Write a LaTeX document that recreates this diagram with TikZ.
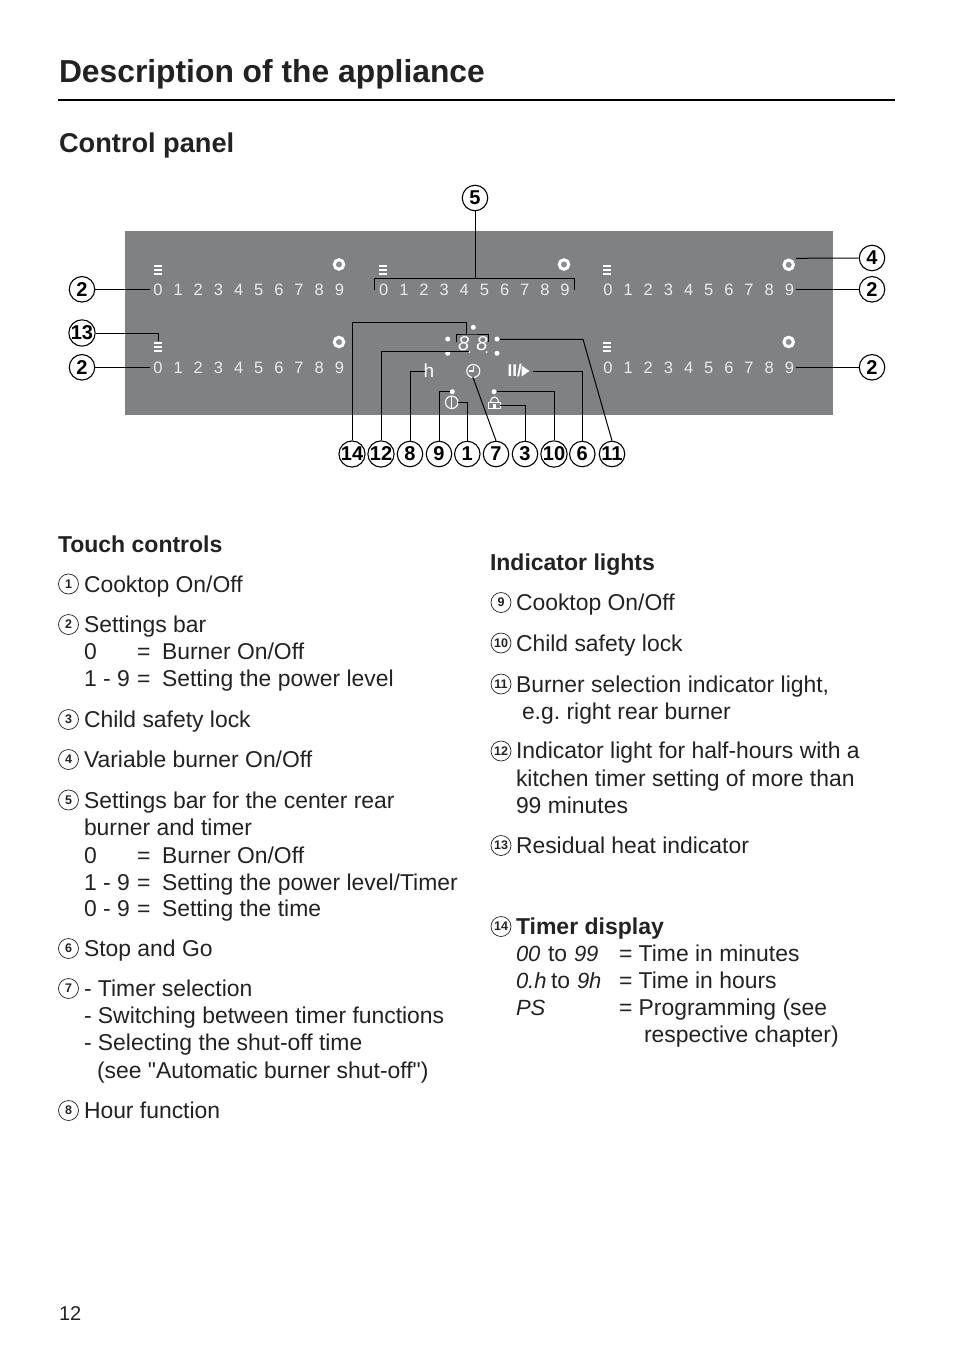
\documentclass[tikz,border=0pt]{standalone}
\usepackage{fontspec}
\newfontfamily\mainf[RawFeature=-liga]{Liberation Sans}
\newcount\txtc
\definecolor{panelgray}{HTML}{808183}
\definecolor{inkc}{HTML}{222222}
\newcommand{\bd}[4][23]{\global\advance\txtc by 1
  \node[txt,font=\fontsize{#1}{#1}\selectfont\bfseries] (t\the\txtc) at (#2,#3) {#4};}
\newcommand{\tl}[3]{\global\advance\txtc by 1
  \node[txt] (t\the\txtc) at (#1,#2) {#3};}
\newcommand{\seg}[3]{\global\advance\txtc by 1
  \node[txt,font=\fontsize{22}{22}\selectfont\itshape] (t\the\txtc) at (#1,#2) {#3};}
\newcommand{\mk}[4]{\node[mark circ] (#1) at (#2,#3) {#4};}
\newcommand{\cout}[4]{\node[callout] (#1) at (#2,#3) {#4};}
\tikzset{
  x=1pt,y=-1pt,
  txt/.style={anchor=base west,inner sep=0pt,outer sep=0pt,text=inkc,font=\fontsize{22.9}{22.9}\selectfont},
  mark circ/.style={circle,draw=inkc,line width=0.7pt,minimum size=20pt,inner sep=0pt,text=inkc,font=\fontsize{12.5}{12.5}\selectfont\bfseries},
  callout/.style={circle,draw=black,line width=1.1pt,minimum size=25.5pt,inner sep=0pt,fill=white,text=black,font=\fontsize{20}{20}\selectfont\bfseries},
  lead/.style={draw=black,line width=1pt},
  pdigit/.style={text=white!92!black,font=\fontsize{16.5}{16.5}\selectfont,inner sep=0pt},
  pring/.style={circle,draw=white,line width=3pt,fill=panelgray!90!white,minimum size=9.5pt,inner sep=0pt},
  pdot/.style={circle,fill=white,minimum size=5pt,inner sep=0pt},
  psym/.style={draw=white,line width=1.1pt},
}
\begin{document}
\mainf\frenchspacing
\begin{tikzpicture}
\useasboundingbox (0,0) rectangle (954,1352);
% headings
\bd[31.8]{59}{82}{Description of the appliance}
\draw[line width=1.6pt,black] (58,100) -- (895,100);
\bd[27.2]{59}{152}{Control panel}
% panel
\fill[panelgray] (125,231) rectangle (833,415);
\foreach \gx/\g in {158/a,383.7/b,608/c}{
  \foreach \i in {0,...,9}{
    \node[pdigit] (\g r\i) at ({\gx+20.15*\i},289.5) {\i};
  }
}
\foreach \gx/\g in {158/d,608/e}{
  \foreach \i in {0,...,9}{
    \node[pdigit] (\g r\i) at ({\gx+20.15*\i},367.5) {\i};
  }
}
\foreach \bx/\by in {158/265,383/265,607/265,158/342,607/342}{
  \fill[white] (\bx-4,\by) rectangle (\bx+4,\by+2.2);
  \fill[white] (\bx-4,\by+4) rectangle (\bx+4,\by+6.2);
  \fill[white] (\bx-4,\by+8) rectangle (\bx+4,\by+10.2);
}
\node[pring] (ring1) at (339,264.5) {};
\node[pring] (ring2) at (564,264.5) {};
\node[pring] (ring3) at (788.7,264.8) {};
\node[pring] (ring4) at (339,342) {};
\node[pring] (ring5) at (788.7,342) {};
% display and symbols
\node[pdot] (d1) at (473.3,327.3) {};
\node[pdot] (d2) at (447.7,339) {};
\node[pdot] (d3) at (447.7,353.3) {};
\node[pdot] (d4) at (497,339) {};
\node[pdot] (d5) at (497,353.3) {};
\node[pdot,minimum size=2pt] (d6) at (469.3,352) {};
\node[pdot,minimum size=2pt] (d7) at (486.7,352) {};
\node[pdot] (d8) at (452.3,391.7) {};
\node[pdot] (d9) at (494,391.7) {};
\node[inner sep=0pt,text=white,font=\fontsize{20}{20}\selectfont\itshape] (seg1) at (463.8,343.5) {8};
\node[inner sep=0pt,text=white,font=\fontsize{20}{20}\selectfont\itshape] (seg2) at (482,343.5) {8};
\node[inner sep=0pt,text=white,font=\fontsize{19}{19}\selectfont] (hsym) at (429,371) {h};
\node[circle,draw=white,line width=1.1pt,minimum size=13pt,inner sep=0pt] (clock) at (473.3,371) {};
\draw[psym] (473.3,366) -- (473.3,371) -- (468.5,371);
\node[inner sep=0pt,text=white,anchor=west,font=\fontsize{17}{17}\selectfont\bfseries] (stopgo) at (507.5,371) {II/};
\fill[white] (521.5,365.5) -- (529.5,371) -- (521.5,376.5) -- cycle;
\node[circle,draw=white,line width=1.1pt,minimum size=12.5pt,inner sep=0pt] (power) at (451.7,402.3) {};
\draw[psym] (451.7,396) -- (451.7,408.6);
\draw[white,line width=1.1pt] (490.5,402.5) .. controls (491,395) and (498,395) .. (498.5,402.5);
\draw[white,line width=1.1pt] (488.5,402.5) rectangle (500.5,408.8);
\fill[white] (493,404) rectangle (496,408.5);
% callouts
\cout{c5}{475}{198}{5}
\cout{c2a}{82}{289.3}{2}
\cout{c13}{82}{333}{13}
\cout{c2b}{82}{367.3}{2}
\cout{c4}{872}{258}{4}
\cout{c2c}{872}{289.3}{2}
\cout{c2d}{872}{367.3}{2}
\cout{c14}{352}{454}{14}
\cout{c12}{381}{454}{12}
\cout{c8}{410}{454}{8}
\cout{c9}{439}{454}{9}
\cout{c1}{467.3}{454}{1}
\cout{c7}{496}{454}{7}
\cout{c3}{525}{454}{3}
\cout{c10}{554}{454}{10}
\cout{c6}{582.3}{454}{6}
\cout{c11}{612}{454}{11}
% leaders
\coordinate (e2a) at (150,289.3);
\coordinate (e13) at (158.3,340.7);
\coordinate (e2b) at (150,367.3);
\coordinate (e4) at (796,258.3);
\coordinate (e2c) at (796,289.3);
\coordinate (e2d) at (796,367.3);
\coordinate (b5) at (475,278.3);
\coordinate (b5l) at (374.3,290);
\coordinate (b5r) at (574.5,290);
\coordinate (k14) at (466.7,322);
\coordinate (e14) at (466.7,334);
\coordinate (dl) at (456.3,342);
\coordinate (dr) at (488.7,342);
\coordinate (e12) at (469,351.7);
\coordinate (e8) at (425,371);
\coordinate (e9) at (449.5,391.7);
\coordinate (e1) at (458,402.7);
\coordinate (e7) at (472.7,376.7);
\coordinate (e3) at (500,405);
\coordinate (e10) at (497,391.7);
\coordinate (e6) at (533,371);
\coordinate (k11) at (583,339.3);
\coordinate (e11) at (500,339.3);
\draw[lead] (c2a.east) -- (e2a);
\draw[lead] (c13.east) -| (e13);
\draw[lead] (c2b.east) -- (e2b);
\draw[lead] (c4.west) -- (e4);
\draw[lead] (c2c.west) -- (e2c);
\draw[lead] (c2d.west) -- (e2d);
\draw[lead] (c5.south) -- (b5);
\draw[lead] (b5l) |- (b5) -| (b5r);
\draw[lead] (c14.north) |- (k14) -- (e14);
\draw[lead] (dl) |- (e14) -| (dr);
\draw[lead] (c12.north) |- (e12);
\draw[lead] (c8.north) |- (e8);
\draw[lead] (c9.north) |- (e9);
\draw[lead] (c1.north) |- (e1);
\draw[lead] (c7.north) -- (e7);
\draw[lead] (c3.north) |- (e3);
\draw[lead] (c10.north) |- (e10);
\draw[lead] (c6.north) |- (e6);
\draw[lead] (c11.north) -- (k11) -- (e11);
% left column
\bd{58}{552}{Touch controls}
\mk{m1}{68.5}{584}{1}\tl{84}{592}{Cooktop On/Off}
\mk{m2}{68.5}{624.5}{2}\tl{84}{632}{Settings bar}
\tl{84}{659}{0}\tl{137}{659}{=}\tl{162}{659}{Burner On/Off}
\tl{84}{686}{1 - 9}\tl{137}{686}{=}\tl{162}{686}{Setting the power level}
\mk{m3}{68.5}{719.5}{3}\tl{84}{727}{Child safety lock}
\mk{m4}{68.5}{759.5}{4}\tl{84}{767}{Variable burner On/Off}
\mk{m5}{68.5}{800}{5}\tl{84}{808}{Settings bar for the center rear}
\tl{84}{835}{burner and timer}
\tl{84}{863}{0}\tl{137}{863}{=}\tl{162}{863}{Burner On/Off}
\tl{84}{890}{1 - 9}\tl{137}{890}{=}\tl{162}{890}{Setting the power level/Timer}
\tl{84}{916}{0 - 9}\tl{137}{916}{=}\tl{162}{916}{Setting the time}
\mk{m6}{68.5}{948.5}{6}\tl{84}{956}{Stop and Go}
\mk{m7}{68.5}{988.5}{7}\tl{84}{996}{- Timer selection}
\tl{84}{1023}{- Switching between timer functions}
\tl{84}{1050}{- Selecting the shut-off time}
\tl{97}{1078}{(see "Automatic burner shut-off")}
\mk{m8}{68.5}{1110.5}{8}\tl{84}{1118}{Hour function}
% right column
\bd{490}{570}{Indicator lights}
\mk{m9}{501}{602.5}{9}\tl{516}{610}{Cooktop On/Off}
\mk{m10}{501}{643}{10}\tl{516}{651}{Child safety lock}
\mk{m11}{501}{684}{11}\tl{516}{692}{Burner selection indicator light,}
\tl{522}{719}{e.g. right rear burner}
\mk{m12}{501}{751}{12}\tl{516}{758}{Indicator light for half-hours with a}
\tl{516}{786}{kitchen timer setting of more than}
\tl{516}{813}{99 minutes}
\mk{m13}{501}{845.5}{13}\tl{516}{853}{Residual heat indicator}
\mk{m14}{501}{926.5}{14}\bd{516}{934}{Timer display}
\seg{516}{961}{00}\tl{548}{961}{to}\seg{574}{961}{99}\tl{619}{961}{= Time in minutes}
\seg{516}{988}{0.h}\tl{551}{988}{to}\seg{577}{988}{9h}\tl{619}{988}{= Time in hours}
\seg{516}{1015}{PS}\tl{619}{1015}{= Programming (see}
\tl{644}{1042}{respective chapter)}
% page number
\global\advance\txtc by 1
\node[txt,font=\fontsize{20}{20}\selectfont] (t\the\txtc) at (59,1320) {12};
\end{tikzpicture}
\end{document}
